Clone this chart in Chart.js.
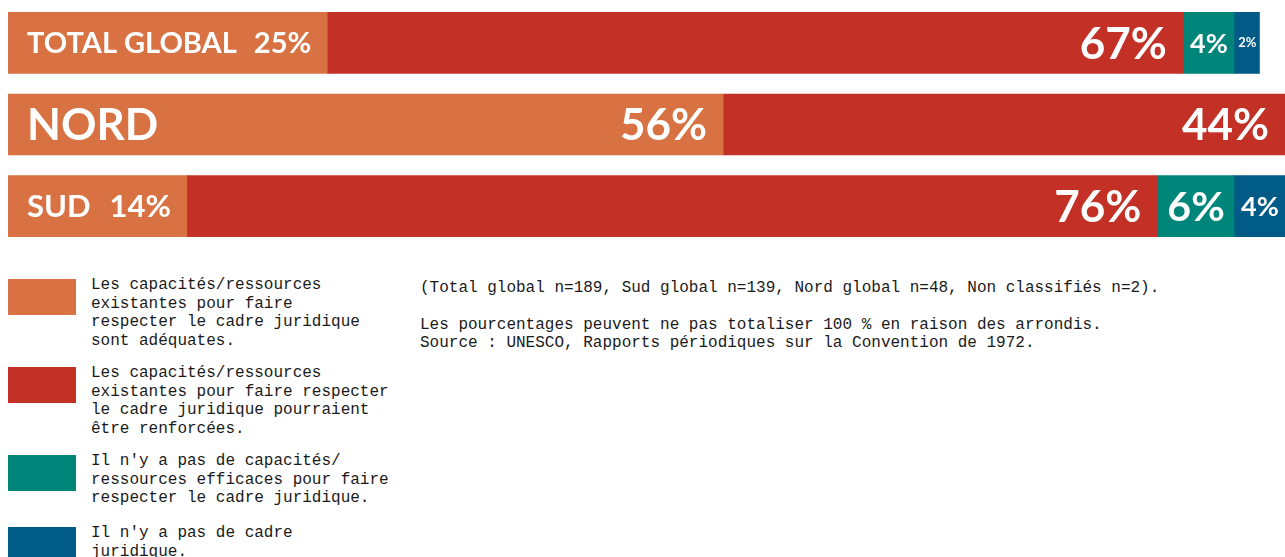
<!DOCTYPE html>
<html lang="fr">
<head>
<meta charset="utf-8">
<script src="https://cdn.jsdelivr.net/npm/chart.js@4.4.1/dist/chart.umd.min.js"></script>
<style>
  html, body { margin: 0; padding: 0; background: #ffffff; width: 1285px; height: 557px; overflow: hidden; position: relative; }
  #wrap { position: absolute; left: 0; top: 2px; width: 1285px; height: 245px; }
  .mono { font-family: "Liberation Mono", "DejaVu Sans Mono", monospace; font-size: 16px; line-height: 18.7px; color: #1a1a1a; }
  .entry { position: absolute; left: 0; }
  .entry .box { position: absolute; left: 8px; top: 3px; width: 68px; height: 36px; }
  .entry .txt { position: absolute; left: 91px; top: 0; white-space: nowrap; }
  #notes { position: absolute; left: 420px; top: 279px; white-space: nowrap; }
</style>
</head>
<body>
<div id="wrap"><canvas id="c"></canvas></div>
<div id="legend"></div>
<div id="notes" class="mono"></div>
<script>
// ---- data ----
const categories = ['TOTAL GLOBAL', 'NORD', 'SUD'];
const adequate    = [25, 56, 14];
const reinforce   = [67, 44, 76];
const noCapacity  = [4, null, 6];
const noFramework = [2, null, 4];
const seriesNames = [
  'Les capacités/ressources\nexistantes pour faire\nrespecter le cadre juridique\nsont adéquates.',
  'Les capacités/ressources\nexistantes pour faire respecter\nle cadre juridique pourraient\nêtre renforcées.',
  "Il n'y a pas de capacités/\nressources efficaces pour faire\nrespecter le cadre juridique.",
  "Il n'y a pas de cadre\njuridique."
];
const noteLines = [
  '(Total global n=189, Sud global n=139, Nord global n=48, Non classifiés n=2).',
  '',
  'Les pourcentages peuvent ne pas totaliser 100 % en raison des arrondis.',
  'Source : UNESCO, Rapports périodiques sur la Convention de 1972.'
];

const seriesColors = ['#D87242', '#C33025', '#00857B', '#005B86'];
const seriesValues = [adequate, reinforce, noCapacity, noFramework];

// ---- label plugin ----
const BASE = 44;
const FONT = (f) => `700 ${f}px Lato, "Open Sans", sans-serif`;
const barLabels = {
  id: 'barLabels',
  afterDatasetsDraw(chart) {
    const ctx = chart.ctx;
    ctx.save();
    ctx.fillStyle = '#ffffff';
    ctx.textBaseline = 'alphabetic';
    const meas = (t) => { ctx.font = FONT(BASE); return ctx.measureText(t).width; };
    categories.forEach((cat, i) => {
      const segs = [];
      chart.data.datasets.forEach((ds, d) => {
        const v = ds.data[i];
        if (v == null || v === 0) return;
        const el = chart.getDatasetMeta(d).data[i];
        segs.push({ start: Math.min(el.base, el.x), end: Math.max(el.base, el.x), y: el.y, text: v + '%' });
      });
      segs.forEach((s, k) => {
        const w = s.end - s.start;
        const vw = meas(s.text);
        if (k === 0) {
          const cw = meas(cat);
          const padL = 19, padR = 16, gap = 16;
          const avail = w - padL - padR - gap;
          const f = Math.min(BASE, Math.floor(BASE * avail / (cw + vw)));
          ctx.font = FONT(f);
          const base = s.y + 0.717 * f / 2;
          ctx.textAlign = 'left';
          ctx.fillText(cat, s.start + padL, base);
          ctx.textAlign = 'right';
          ctx.fillText(s.text, s.end - padR, base);
        } else {
          const pad = Math.min(16, w * 0.12);
          const avail = w - 2 * pad;
          const f = Math.min(BASE, Math.floor(BASE * avail / vw));
          if (f < 8) return;
          ctx.font = FONT(f);
          const base = s.y + 0.717 * f / 2;
          ctx.textAlign = 'right';
          ctx.fillText(s.text, s.end - pad, base);
        }
      });
    });
    ctx.restore();
  }
};

new Chart(document.getElementById('c'), {
  type: 'bar',
  data: {
    labels: categories,
    datasets: seriesValues.map((vals, d) => ({
      label: seriesNames[d].replace(/\n/g, ' '),
      data: vals,
      backgroundColor: seriesColors[d],
      borderWidth: 0,
      barThickness: 61
    }))
  },
  options: {
    indexAxis: 'y',
    responsive: true,
    maintainAspectRatio: false,
    animation: false,
    layout: { padding: { left: 8, right: 0, top: 0, bottom: 0 } },
    scales: {
      x: { stacked: true, min: 0, max: 100, display: false },
      y: { stacked: true, display: false }
    },
    plugins: { legend: { display: false }, tooltip: { enabled: false } }
  },
  plugins: [barLabels]
});

// ---- HTML legend ----
const legendTops = [276, 364, 452, 524];
const legend = document.getElementById('legend');
seriesNames.forEach((name, d) => {
  const e = document.createElement('div');
  e.className = 'entry mono';
  e.style.top = legendTops[d] + 'px';
  const b = document.createElement('div');
  b.className = 'box';
  b.style.background = seriesColors[d];
  const t = document.createElement('div');
  t.className = 'txt';
  name.split('\n').forEach((line, j) => {
    if (j) t.appendChild(document.createElement('br'));
    t.appendChild(document.createTextNode(line));
  });
  e.appendChild(b); e.appendChild(t);
  legend.appendChild(e);
});

// ---- notes ----
const notes = document.getElementById('notes');
noteLines.forEach((line, j) => {
  const dv = document.createElement('div');
  dv.textContent = line || '\u00a0';
  if (line === '') dv.style.height = '18px';
  notes.appendChild(dv);
});
</script>
</body>
</html>
